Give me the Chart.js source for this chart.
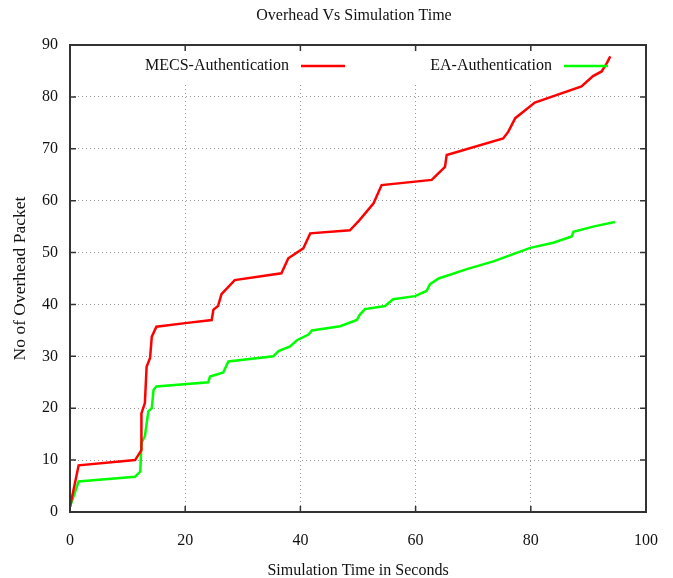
<!DOCTYPE html>
<html>
<head>
<meta charset="utf-8">
<script src="https://cdn.jsdelivr.net/npm/chart.js@4/dist/chart.umd.min.js"></script>
<style>
  html, body { margin: 0; padding: 0; background: #fff; }
  #wrap { width: 673px; height: 578px; position: relative; }
</style>
</head>
<body>
<div id="wrap"><canvas id="overheadChart"></canvas></div>
<script>
// values
const mecsTime = [0, 1.5, 11.3, 12.4, 12.4, 13, 13.3, 13.9, 14.2, 15, 20, 24.6, 24.9, 25.7, 26.3, 28.6, 36.7, 37.9, 40.5, 41.7, 48.6, 50.3, 52.7, 54.1, 62.8, 65.1, 65.4, 75.2, 76.1, 77.3, 80.7, 88.8, 90.8, 92.3, 93.2, 93.8];
const mecsPackets = [1, 9, 10, 11.9, 19, 21, 28, 29.7, 33.8, 35.7, 36.4, 37, 39, 39.7, 42, 44.7, 46, 48.9, 50.8, 53.7, 54.3, 56.3, 59.5, 63, 64, 66.5, 68.8, 72, 73.3, 75.9, 78.9, 82, 84, 84.9, 86.5, 87.8];
const eaTime = [0, 1.5, 11.3, 12.2, 12.4, 13, 13.6, 14.2, 14.5, 15, 24, 24.3, 26.6, 27.5, 35.3, 36.2, 38.2, 39.4, 41.4, 42, 46.9, 49.8, 50.3, 51.2, 54.7, 56.1, 59.9, 61.9, 62.5, 64, 68.9, 73.5, 79.9, 83.9, 87.1, 87.4, 90.8, 94.6];
const eaPackets = [1, 5.9, 6.8, 7.8, 13.3, 14.6, 19.4, 20, 23.5, 24.2, 25, 26.1, 26.9, 29, 30, 31, 31.9, 33.1, 34.2, 35, 35.8, 37, 38, 39.1, 39.7, 41, 41.6, 42.6, 43.9, 45, 46.8, 48.3, 50.9, 51.9, 53.1, 54, 55, 55.9];
const xTicks = [0, 20, 40, 60, 80, 100];
const yTicks = [0, 10, 20, 30, 40, 50, 60, 70, 80, 90];

const seriesNames = ['MECS-Authentication', 'EA-Authentication'];
const seriesColors = ['#ff0000', '#00ff00'];

const serif = "'Liberation Serif', 'Times New Roman', serif";

const toPoints = (xs, ys) => xs.map((x, i) => ({ x: x, y: ys[i] }));

// gnuplot look: title, key inside the box, frame with inward ticks
const gnuplotFrame = {
    id: 'gnuplotFrame',
    beforeDatasetsDraw(chart) {
        const { ctx, chartArea: a } = chart;
        // key area clears the grid
        ctx.save();
        ctx.fillStyle = '#fff';
        ctx.fillRect(a.left + 1, a.top + 1, a.right - a.left - 2, 37);
        ctx.restore();
    },
    afterDatasetsDraw(chart) {
        const { ctx, chartArea: a, scales } = chart;
        ctx.save();

        // title
        ctx.fillStyle = '#111';
        ctx.font = '16px ' + serif;
        ctx.textAlign = 'center';
        ctx.textBaseline = 'middle';
        ctx.fillText('Overhead Vs Simulation Time', (a.left + a.right) / 2 - 4, 16);

        // key
        const keyY = a.top + 21;
        const keyEnds = [a.left + 275, a.left + 538];
        chart.data.datasets.forEach((ds, i) => {
            const lineEnd = keyEnds[i];
            ctx.fillStyle = '#111';
            ctx.textAlign = 'right';
            ctx.font = '16px ' + serif;
            ctx.fillText(ds.label, lineEnd - 56, keyY);
            ctx.strokeStyle = ds.borderColor;
            ctx.lineWidth = 2.5;
            ctx.beginPath();
            ctx.moveTo(lineEnd - 44, keyY);
            ctx.lineTo(lineEnd, keyY);
            ctx.stroke();
        });

        // frame
        ctx.strokeStyle = '#333';
        ctx.lineWidth = 2;
        ctx.strokeRect(a.left, a.top, a.right - a.left, a.bottom - a.top);

        // inward ticks
        ctx.lineWidth = 1.5;
        ctx.beginPath();
        xTicks.forEach(v => {
            const px = scales.x.getPixelForValue(v);
            ctx.moveTo(px, a.bottom); ctx.lineTo(px, a.bottom - 6);
            ctx.moveTo(px, a.top); ctx.lineTo(px, a.top + 6);
        });
        yTicks.forEach(v => {
            const py = scales.y.getPixelForValue(v);
            ctx.moveTo(a.left, py); ctx.lineTo(a.left + 6, py);
            ctx.moveTo(a.right, py); ctx.lineTo(a.right - 6, py);
        });
        ctx.stroke();
        ctx.restore();
    }
};

const ctx = document.getElementById('overheadChart').getContext('2d');
new Chart(ctx, {
    type: 'line',
    data: {
        datasets: [
            {
                label: seriesNames[0],
                data: toPoints(mecsTime, mecsPackets),
                borderColor: seriesColors[0],
                borderWidth: 2.5,
                pointRadius: 0,
                tension: 0,
                fill: false
            },
            {
                label: seriesNames[1],
                data: toPoints(eaTime, eaPackets),
                borderColor: seriesColors[1],
                borderWidth: 2.5,
                pointRadius: 0,
                tension: 0,
                fill: false
            }
        ]
    },
    options: {
        responsive: true,
        maintainAspectRatio: false,
        animation: false,
        layout: { padding: { top: 45, right: 27, left: 0, bottom: 0 } },
        plugins: {
            legend: { display: false },
            title: { display: false },
            tooltip: { enabled: false }
        },
        scales: {
            x: {
                type: 'linear',
                min: 0,
                max: 100,
                afterFit: scale => { scale.height = 66; scale.paddingRight = 0; },
                afterBuildTicks: scale => { scale.ticks = xTicks.map(v => ({ value: v })); },
                ticks: {
                    color: '#111',
                    padding: 19,
                    font: { family: serif, size: 16 }
                },
                grid: { color: '#9a9a9a', lineWidth: 1, drawTicks: false },
                border: { display: false, dash: [1, 3] },
                title: {
                    display: true,
                    text: 'Simulation Time in Seconds',
                    color: '#111',
                    font: { family: serif, size: 16, lineHeight: 1 },
                    padding: { top: 0, bottom: -1 }
                }
            },
            y: {
                type: 'linear',
                min: 0,
                max: 90,
                afterFit: scale => { scale.width = 70; },
                afterBuildTicks: scale => { scale.ticks = yTicks.map(v => ({ value: v })); },
                ticks: {
                    color: '#111',
                    padding: 12,
                    font: { family: serif, size: 16 }
                },
                grid: { color: '#9a9a9a', lineWidth: 1, drawTicks: false },
                border: { display: false, dash: [1, 3] },
                title: {
                    display: true,
                    text: 'No of Overhead Packet',
                    color: '#111',
                    font: { family: serif, size: 17.5, lineHeight: 1 },
                    padding: { top: 12, bottom: 0 }
                }
            }
        }
    },
    plugins: [gnuplotFrame]
});
</script>
</body>
</html>
